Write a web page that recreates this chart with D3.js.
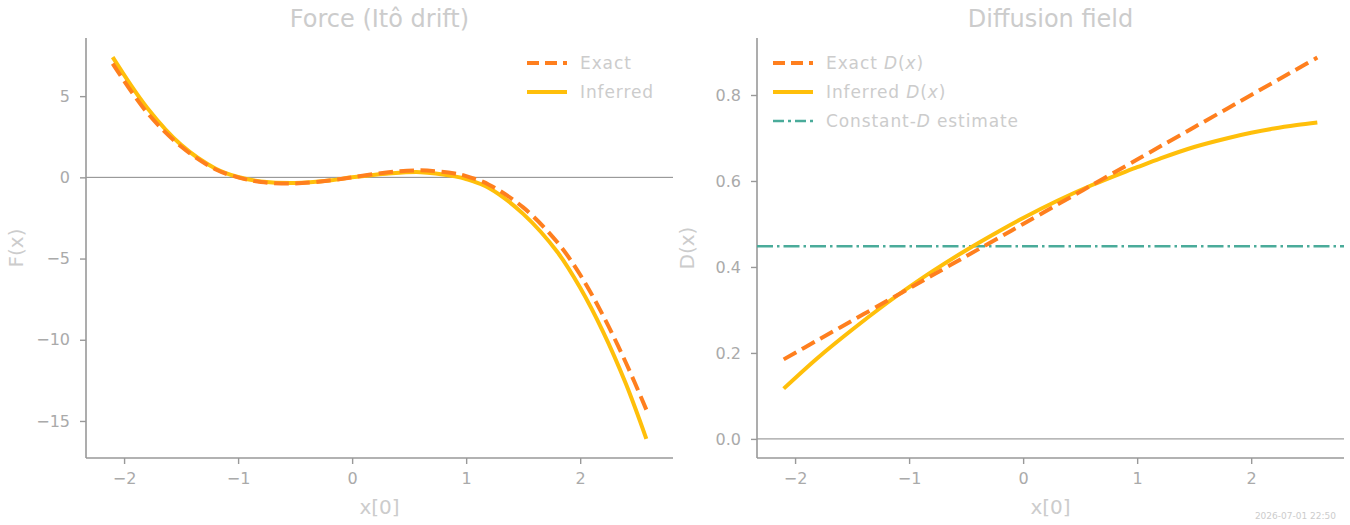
<!DOCTYPE html>
<html>
<head>
<meta charset="UTF-8">
<script src="https://d3js.org/d3.v7.min.js"></script>
<style>
  body { margin: 0; background: #fff; }
  text { font-family: "DejaVu Sans", sans-serif; }
</style>
</head>
<body>
<svg id="canvas" width="1350" height="525"></svg>
<script>
// sample positions along x[0]
xs = [-2.1, -1.8, -1.5, -1.2, -1.0, -0.8, -0.5, -0.2, 0, 0.3, 0.6, 0.9, 1.0, 1.2, 1.5, 1.8, 2.0, 2.2, 2.4, 2.58];

// force panel
forceExact    = [7.0, 4.0, 1.9, 0.5, 0.0, -0.29, -0.38, -0.19, 0, 0.3, 0.43, 0.24, 0.08, -0.45, -1.85, -4.0, -6.0, -8.5, -11.4, -14.3];
forceInferred = [7.4, 4.3, 2.0, 0.55, 0.02, -0.25, -0.35, -0.2, 0, 0.22, 0.32, 0.06, -0.1, -0.65, -2.25, -4.6, -6.8, -9.5, -12.7, -16.1];

// diffusion panel
diffExact    = [0.185, 0.23, 0.275, 0.32, 0.35, 0.38, 0.425, 0.47, 0.5, 0.545, 0.59, 0.635, 0.65, 0.68, 0.725, 0.77, 0.8, 0.83, 0.86, 0.887];
diffInferred = [0.117, 0.189, 0.254, 0.315, 0.353, 0.389, 0.439, 0.485, 0.514, 0.554, 0.59, 0.622, 0.632, 0.652, 0.679, 0.7, 0.712, 0.722, 0.73, 0.736];
diffConst = 0.448;

forceTicksY = [-15, -10, -5, 0, 5];
diffTicksY = [0.0, 0.2, 0.4, 0.6, 0.8];
ticksX = [-2, -1, 0, 1, 2];

colExact = "#ff7f1e";
colInf = "#ffbf0a";
colConst = "#4aab9a";
axisCol = "#999";
tickTxt = "#aaa";
lightTxt = "#ccc";
dashExact = "14.5,6.5";
dashConst = "16,4,2.5,4";

svg = d3.select("#canvas");

function panel(opt) {
  x = d3.scaleLinear().domain([-2.334, 2.814]).range([opt.left, opt.right]);
  y = d3.scaleLinear().domain(opt.ydom).range([458, 38]);

  g = svg.append("g");

  // zero line
  g.append("line")
    .attr("x1", opt.left).attr("x2", opt.right)
    .attr("y1", y(0)).attr("y2", y(0))
    .attr("stroke", "#888").attr("stroke-width", 1);

  xa = g.append("g").attr("transform", "translate(0,458)")
    .call(d3.axisBottom(x).tickValues(ticksX).tickSize(6).tickPadding(9)
      .tickFormat(d => d < 0 ? "\u2212" + Math.abs(d) : d));
  ya = g.append("g").attr("transform", "translate(" + opt.left + ",0)")
    .call(d3.axisLeft(y).tickValues(opt.yticks).tickSize(6).tickPadding(10)
      .tickFormat(opt.yfmt));
  [xa, ya].forEach(a => {
    a.select(".domain").attr("stroke", axisCol).attr("stroke-width", 1.6);
    a.selectAll(".tick line").attr("stroke", axisCol).attr("stroke-width", 1.4);
    a.selectAll(".tick text").attr("fill", tickTxt).style("font-size", "16px");
  });
  ya.select(".domain").attr("d", "M0,458V38");
  xa.select(".domain").attr("d", "M" + opt.left + ",0H" + opt.right);

  line = d3.line().x((d, i) => x(xs[i])).y(d => y(d)).curve(d3.curveCatmullRom.alpha(0.5));

  if (opt.hline !== undefined) {
    g.append("line")
      .attr("x1", opt.left).attr("x2", opt.right)
      .attr("y1", y(opt.hline)).attr("y2", y(opt.hline))
      .attr("stroke", colConst).attr("stroke-width", 2.5)
      .attr("stroke-dasharray", dashConst);
  }
  g.append("path").datum(opt.inf).attr("d", line)
    .attr("fill", "none").attr("stroke", colInf).attr("stroke-width", 4);
  g.append("path").datum(opt.exact).attr("d", line)
    .attr("fill", "none").attr("stroke", colExact).attr("stroke-width", 4)
    .attr("stroke-dasharray", dashExact);

  cx = (opt.left + opt.right) / 2;
  g.append("text").attr("x", cx).attr("y", 27).attr("text-anchor", "middle")
    .attr("fill", lightTxt).style("font-size", "24px").text(opt.title);
  g.append("text").attr("x", cx).attr("y", 514).attr("text-anchor", "middle")
    .attr("fill", lightTxt).style("font-size", "20px").text("x[0]");
  g.append("text").attr("transform", "translate(" + (opt.left - 63) + ",248) rotate(-90)")
    .attr("text-anchor", "middle").attr("fill", lightTxt).style("font-size", "20px")
    .text(opt.ylabel);

  // legend
  opt.legend.forEach((l, i) => {
    ly = 63 + i * 29;
    g.append("line").attr("x1", opt.legX).attr("x2", opt.legX + 40)
      .attr("y1", ly).attr("y2", ly)
      .attr("stroke", l.col).attr("stroke-width", l.w)
      .attr("stroke-dasharray", l.dash);
    t = g.append("text").attr("x", opt.legX + 53).attr("y", ly + 6)
      .attr("fill", lightTxt).style("font-size", "17px").style("letter-spacing", "0.9px");
    l.parts.forEach(p => {
      t.append("tspan").text(p[0]).style("font-style", p[1] ? "italic" : "normal");
    });
  });
}

panel({
  left: 86, right: 673, ydom: [-17.28, 8.58], yticks: forceTicksY,
  yfmt: d => d < 0 ? "\u2212" + Math.abs(d) : d,
  exact: forceExact, inf: forceInferred,
  title: "Force (Itô drift)", ylabel: "F(x)", legX: 527,
  legend: [
    {col: colExact, w: 4, dash: "12,6", parts: [["Exact", false]]},
    {col: colInf, w: 4, dash: null, parts: [["Inferred", false]]}
  ]
});

panel({
  left: 757, right: 1344, ydom: [-0.0444, 0.9326], yticks: diffTicksY,
  yfmt: d3.format(".1f"),
  exact: diffExact, inf: diffInferred, hline: diffConst,
  title: "Diffusion field", ylabel: "D(x)", legX: 773,
  legend: [
    {col: colExact, w: 4, dash: "12,6", parts: [["Exact ", false], ["D", true], ["(", false], ["x", true], [")", false]]},
    {col: colInf, w: 4, dash: null, parts: [["Inferred ", false], ["D", true], ["(", false], ["x", true], [")", false]]},
    {col: colConst, w: 2.5, dash: "11,4,3,4", parts: [["Constant-", false], ["D", true], [" estimate", false]]}
  ]
});

svg.append("text").attr("x", 1336).attr("y", 519).attr("text-anchor", "end")
  .attr("fill", lightTxt).style("font-size", "9px").text("2026-07-01 22:50");
</script>
</body>
</html>
